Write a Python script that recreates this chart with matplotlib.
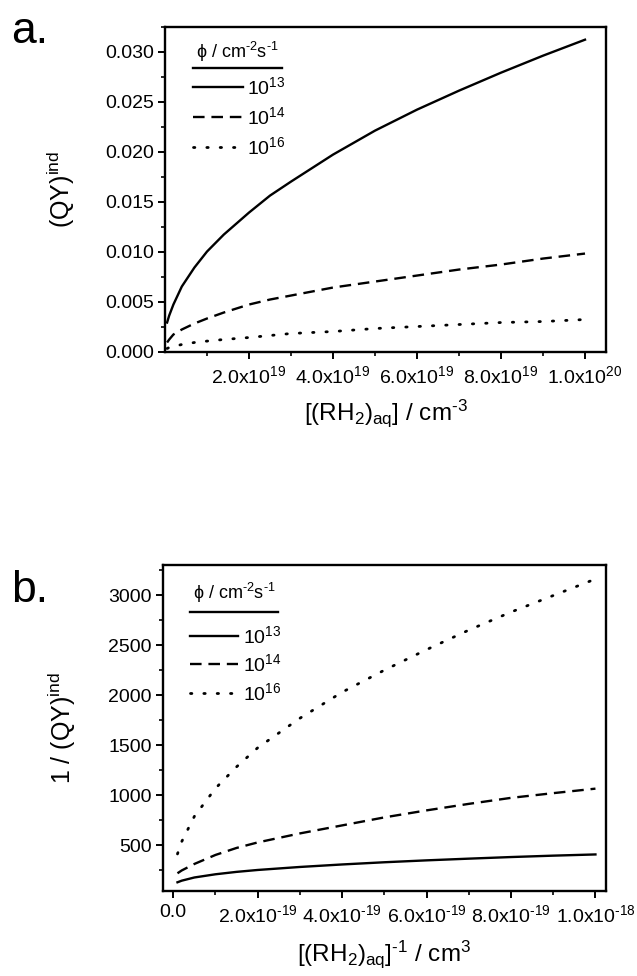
import matplotlib
matplotlib.use("Agg")
import matplotlib.pyplot as plt
from matplotlib.ticker import FixedLocator

plt.rcParams['font.family'] = ['Liberation Sans', 'DejaVu Sans']
plt.rcParams['mathtext.fontset'] = 'custom'
plt.rcParams['mathtext.rm'] = 'Liberation Sans'
plt.rcParams['mathtext.it'] = 'Liberation Sans:italic'
plt.rcParams['mathtext.default'] = 'regular'

# ---------------- data: panel a ----------------
rh2_a = [0.05e19, 0.1e19, 0.2e19, 0.4e19, 0.7e19, 1.0e19, 1.4e19, 2.0e19, 2.5e19, 3.0e19,
         4.0e19, 5.0e19, 6.0e19, 7.0e19, 8.0e19, 9.0e19, 1.0e20]
qy_13 = [0.0029, 0.0036, 0.0047, 0.0065, 0.0084, 0.0100, 0.0117, 0.0139, 0.0156, 0.0170,
         0.0197, 0.0221, 0.0242, 0.0261, 0.0279, 0.0296, 0.0312]
qy_14 = [0.0009, 0.0012, 0.0017, 0.0022, 0.0028, 0.0033, 0.0039, 0.0047, 0.0052, 0.0056,
         0.0064, 0.0070, 0.0076, 0.0082, 0.0087, 0.0093, 0.0098]
qy_16 = [0.0003, 0.0004, 0.0005, 0.0007, 0.0009, 0.00104, 0.0012, 0.0014, 0.0016, 0.0018,
         0.0020, 0.0023, 0.0025, 0.0027, 0.0029, 0.0030, 0.0032]

# ---------------- data: panel b ----------------
inv_rh2_b = [0.01e-18, 0.02e-18, 0.05e-18, 0.1e-18, 0.15e-18, 0.2e-18, 0.3e-18,
             0.4e-18, 0.5e-18, 0.6e-18, 0.7e-18, 0.8e-18, 0.9e-18, 1.0e-18]
inv_qy_13 = [132, 148, 180, 212, 236, 255, 285, 310, 332, 351, 368, 384, 398, 410]
inv_qy_14 = [222, 250, 315, 405, 475, 530, 620, 700, 780, 850, 915, 975, 1022, 1067]
inv_qy_16 = [415, 538, 790, 1070, 1285, 1475, 1770, 2030, 2250, 2455, 2650, 2830, 2995, 3160]

flux_labels = ['10$^{13}$', '10$^{14}$', '10$^{16}$']
legend_title = '\u03d5 / cm$^{\\text{-2}}$s$^{\\text{-1}}$'

xt_a = [2e19, 4e19, 6e19, 8e19, 1e20]
xt_a_labels = ['2.0x10$^{19}$', '4.0x10$^{19}$', '6.0x10$^{19}$', '8.0x10$^{19}$', '1.0x10$^{20}$']
xt_b = [0, 2e-19, 4e-19, 6e-19, 8e-19, 1e-18]
xt_b_labels = ['0.0', '2.0x10$^{\\text{-19}}$', '4.0x10$^{\\text{-19}}$', '6.0x10$^{\\text{-19}}$',
               '8.0x10$^{\\text{-19}}$', '1.0x10$^{\\text{-18}}$']
yt_a = [0.000, 0.005, 0.010, 0.015, 0.020, 0.025, 0.030]
yt_a_labels = ['0.000', '0.005', '0.010', '0.015', '0.020', '0.025', '0.030']
yt_b = [500, 1000, 1500, 2000, 2500, 3000]

styles = [
    dict(linestyle='-', lw=1.7),
    dict(linestyle=(0, (4.9, 2.9)), lw=1.7),
    dict(linestyle=(0, (0.5, 4.3)), lw=2.0, dash_capstyle='round'),
]

fig = plt.figure(figsize=(6.37, 9.76), dpi=100)
W, H = 637, 976


def axes_px(l, t, r, b):
    return fig.add_axes([l / W, 1 - b / H, (r - l) / W, (b - t) / H])


ax1 = axes_px(165, 26.7, 606, 351.5)
ax2 = axes_px(162.7, 565, 606, 890.5)

for ys, st in zip([qy_13, qy_14, qy_16], styles):
    ax1.plot(rh2_a, ys, color='black', **st)
for ys, st in zip([inv_qy_13, inv_qy_14, inv_qy_16], styles):
    ax2.plot(inv_rh2_b, ys, color='black', **st)

ax1.set_xlim(0, 1.05e20)
ax1.set_ylim(0, 0.0325)
ax2.set_xlim(-0.025e-18, 1.025e-18)
ax2.set_ylim(50, 3300)

ax1.xaxis.set_major_locator(FixedLocator(xt_a))
ax1.set_xticklabels(xt_a_labels)
ax1.xaxis.set_minor_locator(FixedLocator([1e19, 3e19, 5e19, 7e19, 9e19]))
ax1.yaxis.set_major_locator(FixedLocator(yt_a))
ax1.set_yticklabels(yt_a_labels)
ax1.yaxis.set_minor_locator(FixedLocator([0.0025, 0.0075, 0.0125, 0.0175, 0.0225, 0.0275, 0.0325]))

ax2.xaxis.set_major_locator(FixedLocator(xt_b))
ax2.set_xticklabels(xt_b_labels)
ax2.xaxis.set_minor_locator(FixedLocator([1e-19, 3e-19, 5e-19, 7e-19, 9e-19]))
ax2.yaxis.set_major_locator(FixedLocator(yt_b))
ax2.set_yticklabels([str(v) for v in yt_b])
ax2.yaxis.set_minor_locator(FixedLocator([250, 750, 1250, 1750, 2250, 2750, 3250]))

for ax in (ax1, ax2):
    for sp in ax.spines.values():
        sp.set_linewidth(1.7)
    ax.tick_params(which='major', direction='out', length=5, width=1.4, labelsize=14, pad=3,
                   top=False, right=False)
    ax.tick_params(which='minor', direction='out', length=3, width=1.2, top=False, right=False)
    ax.tick_params(axis='x', which='major', pad=5)

ax1.set_xlabel('[(RH$_2$)$_{aq}$] / cm$^{\\text{-3}}$', fontsize=17.5, labelpad=7)
ax1.set_ylabel('(QY)$^{ind}$', fontsize=18, labelpad=20)
ax2.set_xlabel('[(RH$_2$)$_{aq}$]$^{\\text{-1}}$ / cm$^3$', fontsize=17.5, labelpad=9)
ax2.set_ylabel('1 / (QY)$^{ind}$', fontsize=18, labelpad=22)


# legends (drawn manually to match the original layout)
def draw_legend(ax, title_y, line_y, entry_ys, x0, x1, hx1, lx):
    ax.text((x0 + x1) / 2, title_y, legend_title, transform=ax.transAxes,
            ha='center', va='center', fontsize=13)
    ax.plot([x0, x1], [line_y, line_y], transform=ax.transAxes, color='black', lw=1.7,
            clip_on=False)
    for y, lab, st in zip(entry_ys, flux_labels, styles):
        ax.plot([x0, hx1], [y, y], transform=ax.transAxes, color='black', **st)
        ax.text(lx, y, lab, transform=ax.transAxes, ha='left', va='center', fontsize=14)


draw_legend(ax1, 0.922, 0.873, [0.814, 0.722, 0.629], 0.063, 0.265, 0.177, 0.186)
draw_legend(ax2, 0.914, 0.856, [0.782, 0.696, 0.607], 0.062, 0.260, 0.170, 0.182)

fig.text(11 / W, 1 - 43 / H, 'a.', fontsize=32, ha='left', va='baseline')
fig.text(11 / W, 1 - 602 / H, 'b.', fontsize=32, ha='left', va='baseline')

fig.savefig('out.png', dpi=100)
